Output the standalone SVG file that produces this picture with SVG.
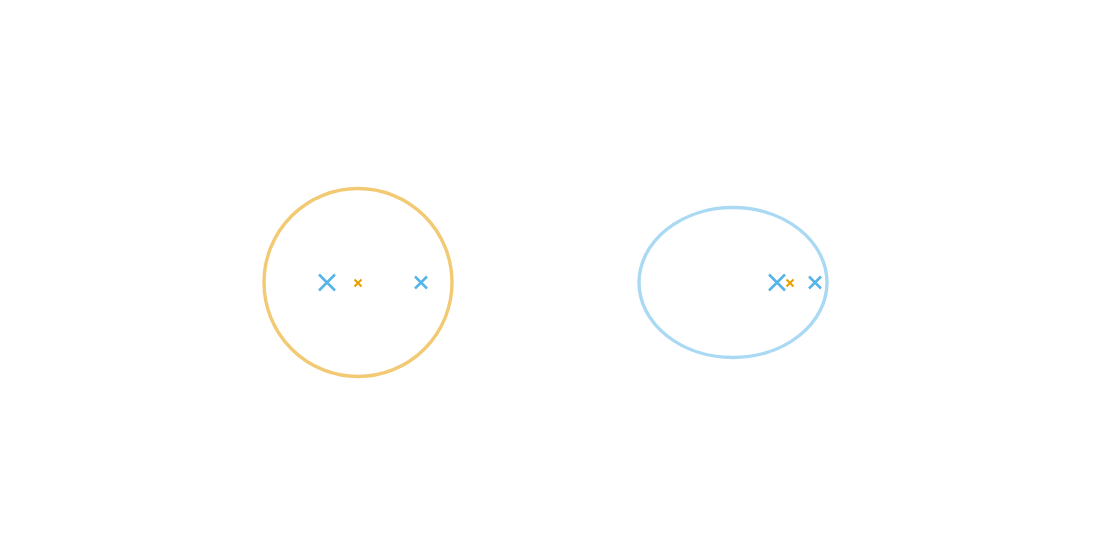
<svg xmlns="http://www.w3.org/2000/svg" width="1120" height="560" viewBox="0 0 1120 560">
<style>
.ring{fill:none;stroke-width:3.4}
.o{stroke:#E69F00}
.b{stroke:#56B4E9}
.x{stroke-width:2.5;fill:none;stroke-linecap:butt}
.xs{stroke-width:2;fill:none}
</style>
<rect width="1120" height="560" fill="#ffffff"/>
<g id="left">
<circle class="ring o" cx="358" cy="282.5" r="94" stroke-opacity="0.55"/>
<path class="x b" d="M319,274.5 L335,290.5 M319,290.5 L335,274.5"/>
<path class="xs o" d="M354.5,279.5 L361.5,286.5 M354.5,286.5 L361.5,279.5"/>
<path class="x b" d="M415,276.5 L427,288.5 M415,288.5 L427,276.5"/>
</g>
<g id="right">
<ellipse class="ring b" cx="733" cy="282.5" rx="94" ry="75" stroke-opacity="0.5"/>
<path class="x b" d="M769,274.5 L785,290.5 M769,290.5 L785,274.5"/>
<path class="xs o" d="M786.5,279.5 L793.5,286.5 M786.5,286.5 L793.5,279.5"/>
<path class="x b" d="M809,276.5 L821,288.5 M809,288.5 L821,276.5"/>
</g>
</svg>
